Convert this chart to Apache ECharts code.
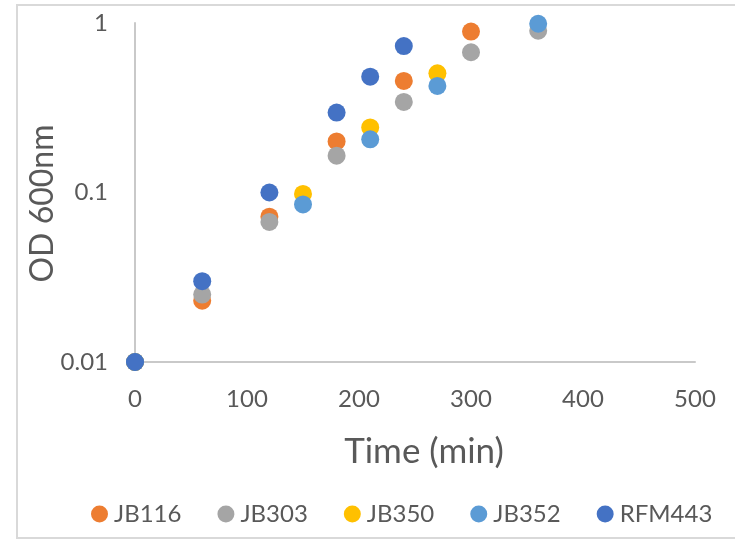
<!DOCTYPE html>
<html>
<head>
<meta charset="utf-8">
<style>
  html, body { margin: 0; padding: 0; background: #ffffff; }
  #chart { width: 735px; height: 543px; }
</style>
<script src="https://cdn.jsdelivr.net/npm/echarts@6/dist/echarts.min.js"></script>
</head>
<body>
<div id="chart"></div>
<script>
// Growth curves: optical density at 600 nm over time for each strain
const strainNames = ['JB116', 'JB303', 'JB350', 'JB352', 'RFM443'];
const strainColors = ['#ED7D31', '#A5A5A5', '#FFC000', '#5B9BD5', '#4472C4'];

const jb116Time = [0, 60, 120, 180, 240, 300];
const jb116OD   = [0.01, 0.023, 0.072, 0.20, 0.455, 0.89];

const jb303Time = [0, 60, 120, 180, 240, 300, 360];
const jb303OD   = [0.01, 0.025, 0.067, 0.165, 0.342, 0.672, 0.90];

const jb350Time = [0, 150, 210, 270];
const jb350OD   = [0.01, 0.098, 0.242, 0.505];

const jb352Time = [0, 150, 210, 270, 360];
const jb352OD   = [0.01, 0.085, 0.206, 0.425, 0.99];

const rfm443Time = [0, 60, 120, 180, 210, 240];
const rfm443OD   = [0.01, 0.030, 0.10, 0.296, 0.482, 0.731];

const xTicks = [0, 100, 200, 300, 400, 500];
const yTicks = [0.01, 0.1, 1];

const seriesTimes = [jb116Time, jb303Time, jb350Time, jb352Time, rfm443Time];
const seriesOD = [jb116OD, jb303OD, jb350OD, jb352OD, rfm443OD];

const textColor = '#595959';
const fontFamily = 'Lato, "Open Sans", sans-serif';

const chart = echarts.init(document.getElementById('chart'), null, { renderer: 'canvas' });

const series = strainNames.map((name, i) => ({
  name: name,
  type: 'scatter',
  symbol: 'circle',
  symbolSize: 18,
  clip: false,
  itemStyle: { color: strainColors[i], opacity: 1 },
  data: seriesTimes[i].map((t, j) => [t, seriesOD[i][j]])
}));

chart.setOption({
  animation: false,
  backgroundColor: '#ffffff',
  textStyle: { fontFamily: fontFamily },
  graphic: [{
    type: 'rect',
    shape: { x: 17, y: 5, width: 760, height: 533 },
    style: { fill: 'none', stroke: '#D9D9D9', lineWidth: 2 },
    silent: true,
    z: -1
  }],
  grid: { left: 135, top: 23, right: 40, bottom: 181, containLabel: false },
  legend: {
    data: strainNames,
    left: 86,
    top: 497,
    itemWidth: 17,
    itemHeight: 17,
    itemGap: 36,
    icon: 'circle',
    textStyle: { color: textColor, fontSize: 24, fontFamily: fontFamily, padding: [0, 0, 0, 1] }
  },
  xAxis: {
    type: 'value',
    min: xTicks[0],
    max: xTicks[xTicks.length - 1],
    interval: xTicks[1] - xTicks[0],
    name: 'Time (min)',
    nameLocation: 'middle',
    nameGap: 72,
    nameMoveOverlap: false,
    nameTextStyle: { color: textColor, fontSize: 35, fontFamily: fontFamily, padding: [0, 0, 0, 18] },
    axisLine: { show: true, lineStyle: { color: '#C9C9C9', width: 2 } },
    axisTick: { show: false },
    splitLine: { show: false },
    axisLabel: { color: textColor, fontSize: 24, margin: 25, fontFamily: fontFamily }
  },
  yAxis: {
    type: 'log',
    logBase: 10,
    min: yTicks[0],
    max: yTicks[yTicks.length - 1],
    name: 'OD 600nm',
    nameLocation: 'middle',
    nameGap: 76,
    nameMoveOverlap: false,
    nameTextStyle: { color: textColor, fontSize: 32, fontFamily: fontFamily, padding: [0, 22, 0, 0] },
    axisLine: { show: true, onZero: false, lineStyle: { color: '#C9C9C9', width: 2 } },
    axisTick: { show: false },
    splitLine: { show: false },
    axisLabel: {
      color: textColor,
      fontSize: 24,
      margin: 27,
      fontFamily: fontFamily,
      formatter: function (v) {
        const hit = yTicks.find(t => Math.abs(Math.log10(t) - Math.log10(v)) < 1e-6);
        return hit !== undefined ? String(hit) : '';
      }
    }
  },
  series: series
});
</script>
</body>
</html>
